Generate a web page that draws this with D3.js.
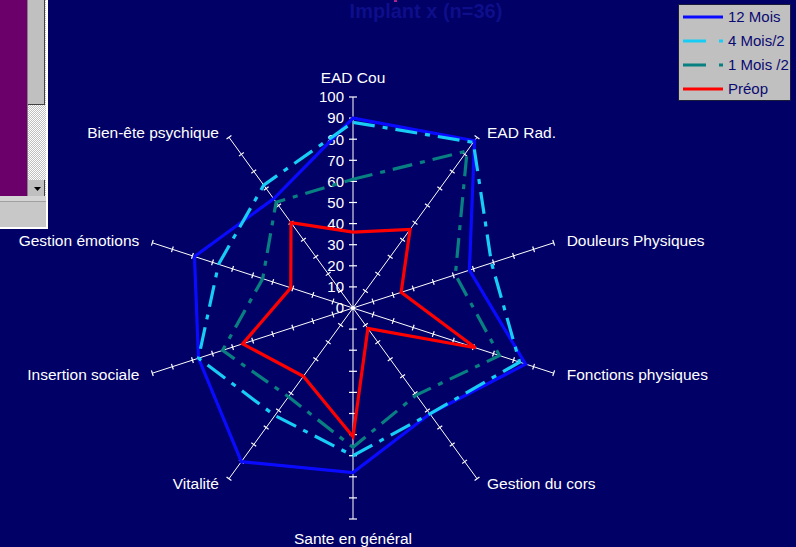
<!DOCTYPE html>
<html><head><meta charset="utf-8">
<script src="https://cdn.jsdelivr.net/npm/d3@7"></script>
<style>
html,body{margin:0;padding:0;background:#000066;overflow:hidden;}
svg{display:block;}
</style></head>
<body>
<svg id="c" width="796" height="547"></svg>
<script>
const categories = ["EAD Cou","EAD Rad.","Douleurs Physiques","Fonctions physiques","Gestion du cors","Sante en général","Vitalité","Insertion sociale","Gestion émotions","Bien-ête psychique"];
const seriesNames = ["12 Mois","4 Mois/2","1 Mois /2","Préop"];
const mois12 = [90, 98, 58, 86, 62, 78, 90, 77, 79, 64];
const mois4 = [88, 97, 69, 83, 62, 70, 63, 77, 67, 72];
const mois1 = [61, 92, 51, 73, 51, 66, 52, 65, 45, 62];
const preop = [36, 46, 24, 61, 12, 61, 40, 55, 31, 50];
const tickValues = [0,10,20,30,40,50,60,70,80,90,100];
const title = "Implant x (n=36)";

const svg = d3.select("#c");
const W = 796, H = 547;
const cx = 353, cy = 308, R = 211;
const font = "'Liberation Sans', Arial, sans-serif";

svg.append("rect").attr("width", W).attr("height", H).attr("fill", "#000066");

// Title (dark, barely visible)
svg.append("text").attr("x", 426).attr("y", 18).attr("text-anchor", "middle")
  .attr("font-family", font).attr("font-weight", "bold").attr("font-size", 20)
  .attr("fill", "#0e0e8a").text(title);
svg.append("rect").attr("x", 394).attr("y", 0).attr("width", 3).attr("height", 2).attr("fill", "#b0208a");

// Top-left window fragment
const defs = svg.append("defs");
const pat = defs.append("pattern").attr("id", "dith").attr("width", 2).attr("height", 2).attr("patternUnits", "userSpaceOnUse");
pat.append("rect").attr("width", 2).attr("height", 2).attr("fill", "#c0c0c0");
pat.append("rect").attr("width", 1).attr("height", 1).attr("fill", "#ffffff");
pat.append("rect").attr("x", 1).attr("y", 1).attr("width", 1).attr("height", 1).attr("fill", "#ffffff");
const win = svg.append("g");
win.append("rect").attr("x", 0).attr("y", 0).attr("width", 48).attr("height", 229).attr("fill", "#ffffff");
win.append("rect").attr("x", 0).attr("y", 0).attr("width", 27).attr("height", 196).attr("fill", "#6c006a");
win.append("rect").attr("x", 27).attr("y", 0).attr("width", 19).attr("height", 196).attr("fill", "url(#dith)");
win.append("rect").attr("x", 27).attr("y", 0).attr("width", 1).attr("height", 196).attr("fill", "#808080");
win.append("rect").attr("x", 28).attr("y", 0).attr("width", 17).attr("height", 105).attr("fill", "#404040");
win.append("rect").attr("x", 28).attr("y", 0).attr("width", 16).attr("height", 104).attr("fill", "#c0c0c0");
win.append("rect").attr("x", 28).attr("y", 180).attr("width", 17).attr("height", 17).attr("fill", "#404040");
win.append("rect").attr("x", 28).attr("y", 180).attr("width", 16).attr("height", 16).attr("fill", "#c0c0c0");
win.append("path").attr("d", "M34,187 L41,187 L37.5,191 Z").attr("fill", "#000");
win.append("rect").attr("x", 0).attr("y", 196).attr("width", 46).attr("height", 5).attr("fill", "#d4d4d4");
win.append("rect").attr("x", 0).attr("y", 201).attr("width", 46).attr("height", 1).attr("fill", "#a0a0a0");
win.append("rect").attr("x", 0).attr("y", 202).attr("width", 46).attr("height", 25).attr("fill", "#c8c8c8");

// Radar
const r = d3.scaleLinear().domain([0, 100]).range([0, R]);
const n = categories.length;
const ang = i => i * 2 * Math.PI / n;
const pt = (i, v) => [cx + r(v) * Math.sin(ang(i)), cy - r(v) * Math.cos(ang(i))];

const g = svg.append("g");
categories.forEach((c, i) => {
  const [x2, y2] = pt(i, 100);
  g.append("line").attr("x1", cx).attr("y1", cy).attr("x2", x2).attr("y2", y2)
    .attr("stroke", "#ffffff").attr("stroke-width", 1);
  const a = ang(i);
  const px = Math.cos(a), py = Math.sin(a);
  const half = (i === 0 || i === 5) ? 4 : 3;
  tickValues.forEach(t => {
    if (t === 0) return;
    const [tx, ty] = pt(i, t);
    g.append("line").attr("x1", tx - px * half).attr("y1", ty - py * half)
      .attr("x2", tx + px * half).attr("y2", ty + py * half)
      .attr("stroke", "#ffffff").attr("stroke-width", 1.2);
  });
});
g.append("circle").attr("cx", cx).attr("cy", cy).attr("r", 2).attr("fill", "#ffffff");

const yScale = d3.scaleLinear().domain([0, 100]).range([cy, cy - R]);
const yAxis = d3.axisLeft(yScale).tickValues(tickValues).tickSize(0).tickPadding(9);
const ya = svg.append("g").attr("transform", `translate(${cx},0)`).call(yAxis);
ya.select(".domain").remove();
ya.selectAll("text").attr("fill", "#ffffff").attr("font-family", font).attr("font-size", 15);

categories.forEach((c, i) => {
  const a = ang(i);
  const s = Math.sin(a), co = Math.cos(a);
  const [ex, ey] = pt(i, 100);
  let x, y, anchor;
  if (Math.abs(s) < 1e-6) {
    x = ex; anchor = "middle";
    y = co > 0 ? ey - 19 : ey + 20;
  } else {
    anchor = s > 0 ? "start" : "end";
    const off = Math.abs(co) < 0.5 ? 13 : 10;
    x = ex + (s > 0 ? off : -off);
    y = ey - 6 * co;
  }
  svg.append("text").attr("x", x).attr("y", y).attr("dy", "0.35em")
    .attr("text-anchor", anchor).attr("font-family", font).attr("font-size", 15.5)
    .attr("fill", "#ffffff").text(c);
});

const series = [
  {name: seriesNames[0], values: mois12, color: "#0a0aff", dash: null},
  {name: seriesNames[1], values: mois4, color: "#18cdf5", dash: "22,8,5,8"},
  {name: seriesNames[2], values: mois1, color: "#087f80", dash: "20,8,5,8"},
  {name: seriesNames[3], values: preop, color: "#ff0000", dash: null}
];
const line = d3.lineRadial().angle((d, i) => ang(i)).radius(d => r(d)).curve(d3.curveLinearClosed);
const sg = svg.append("g").attr("transform", `translate(${cx},${cy})`);
series.forEach(s => {
  sg.append("path").attr("d", line(s.values)).attr("fill", "none")
    .attr("stroke", s.color).attr("stroke-width", 3.2)
    .attr("stroke-dasharray", s.dash).attr("stroke-linejoin", "miter");
});

const lg = svg.append("g");
lg.append("rect").attr("x", 678.5).attr("y", 4.5).attr("width", 112).attr("height", 96)
  .attr("fill", "#c0c0c0").attr("stroke", "#1a1a3a").attr("stroke-width", 1);
const ly = d3.scalePoint().domain(seriesNames).range([17, 89]);
series.forEach(s => {
  const y = ly(s.name);
  lg.append("line").attr("x1", 683).attr("x2", 723).attr("y1", y).attr("y2", y)
    .attr("stroke", s.color).attr("stroke-width", 3.2).attr("stroke-dasharray", s.dash ? "23,13,4,20" : null);
  lg.append("text").attr("x", 728).attr("y", y).attr("dy", "0.36em")
    .attr("font-family", font).attr("font-size", 15).attr("fill", "#0a0a70").text(s.name);
});
</script>
</body></html>
